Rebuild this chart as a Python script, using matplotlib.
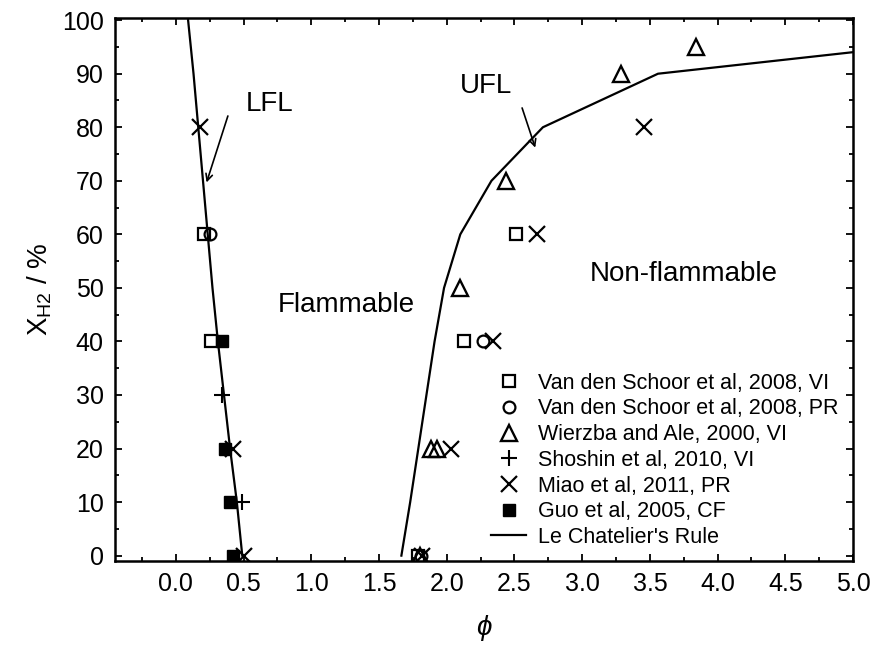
import matplotlib
matplotlib.use("Agg")
import matplotlib.pyplot as plt
from matplotlib.ticker import MultipleLocator

plt.rcParams["font.family"] = ["Liberation Sans", "DejaVu Sans"]
plt.rcParams["mathtext.fontset"] = "custom"
plt.rcParams["mathtext.rm"] = "Liberation Sans"
plt.rcParams["mathtext.it"] = "Liberation Sans:italic"

# Le Chatelier's rule, lower and upper flammability limits
lfl_x_h2 = [0, 10, 20, 30, 40, 50, 60, 70, 80, 90, 100]
lfl_phi = [0.49, 0.45, 0.40, 0.355, 0.31, 0.27, 0.235, 0.20, 0.165, 0.13, 0.09]
ufl_x_h2 = [0, 10, 20, 30, 40, 50, 60, 70, 80, 90, 100]
ufl_phi = [1.665, 1.73, 1.79, 1.85, 1.91, 1.98, 2.10, 2.33, 2.71, 3.56, 7.14]

# experimental data sets
schoor_vi_phi = [0.21, 0.26, 1.79, 2.13, 2.51]
schoor_vi_x = [60, 40, 0, 40, 60]
schoor_pr_phi = [0.25, 1.81, 2.27]
schoor_pr_x = [60, 0, 40]
wierzba_phi = [1.80, 1.88, 1.93, 2.10, 2.44, 3.29, 3.84]
wierzba_x = [0, 20, 20, 50, 70, 90, 95]
shoshin_phi = [0.34, 0.49]
shoshin_x = [30, 10]
miao_phi = [0.18, 0.42, 0.50, 1.82, 2.03, 2.34, 2.67, 3.46]
miao_x = [80, 20, 0, 0, 20, 40, 60, 80]
guo_phi = [0.34, 0.36, 0.40, 0.42]
guo_x = [40, 20, 10, 0]

fig = plt.figure(figsize=(8.73, 6.46), dpi=100)
ax = fig.add_axes([0.1317, 0.1316, 0.8454, 0.8405])

line, = ax.plot(lfl_phi, lfl_x_h2, color="black", lw=1.6, zorder=2,
                label="Le Chatelier's Rule")
ax.plot(ufl_phi, ufl_x_h2, color="black", lw=1.6, zorder=2)

mk = dict(linestyle="none", color="black", zorder=3)
h1, = ax.plot(schoor_vi_phi, schoor_vi_x, marker="s", ms=8, mfc="none", mew=1.6,
              label="Van den Schoor et al, 2008, VI", **mk)
h2, = ax.plot(schoor_pr_phi, schoor_pr_x, marker="o", ms=8.5, mfc="none", mew=1.6,
              label="Van den Schoor et al, 2008, PR", **mk)
h3, = ax.plot(wierzba_phi, wierzba_x, marker="^", ms=11, mfc="none", mew=1.7,
              label="Wierzba and Ale, 2000, VI", **mk)
h4, = ax.plot(shoshin_phi, shoshin_x, marker="+", ms=12, mew=1.5,
              label="Shoshin et al, 2010, VI", **mk)
h5, = ax.plot(miao_phi, miao_x, marker="x", ms=11.5, mew=1.6,
              label="Miao et al, 2011, PR", **mk)
h6, = ax.plot(guo_phi, guo_x, marker="s", ms=9, mew=1,
              label="Guo et al, 2005, CF", **mk)

ax.legend(handles=[h1, h2, h3, h4, h5, h6, line], loc="upper left",
          bbox_to_anchor=(0.51, 0.347), frameon=False, fontsize=15.5,
          labelspacing=0.22, handlelength=1.6, handletextpad=0.55,
          borderpad=0, borderaxespad=0)

ax.text(0.69, 84.3, "LFL", fontsize=20, ha="center", va="center")
ax.text(2.29, 87.7, "UFL", fontsize=20, ha="center", va="center")
ax.text(1.26, 46.8, "Flammable", fontsize=20, ha="center", va="center")
ax.text(3.75, 52.6, "Non-flammable", fontsize=20, ha="center", va="center")

arrow = dict(arrowstyle="->", color="black", lw=1.2, mutation_scale=12)
ax.annotate("", xy=(0.22, 69.2), xytext=(0.39, 82.6), arrowprops=arrow)
ax.annotate("", xy=(2.66, 75.7), xytext=(2.55, 84.1), arrowprops=arrow)

ax.set_xlim(-0.45, 5.0)
ax.set_ylim(-1, 100.4)
ax.xaxis.set_major_locator(MultipleLocator(0.5))
ax.xaxis.set_minor_locator(MultipleLocator(0.25))
ax.yaxis.set_major_locator(MultipleLocator(10))
ax.yaxis.set_minor_locator(MultipleLocator(5))
ax.set_xticks([0, 0.5, 1, 1.5, 2, 2.5, 3, 3.5, 4, 4.5, 5])
ax.set_xticklabels([f"{v:.1f}" for v in ax.get_xticks()])

ax.tick_params(which="both", direction="in", top=True, right=True,
               width=1.3, labelsize=18, colors="black")
ax.tick_params(which="major", length=5, pad=8)
ax.tick_params(which="minor", length=3)
for sp in ax.spines.values():
    sp.set_linewidth(1.8)

ax.set_xlabel(r"$\phi$", fontsize=20, labelpad=12)
ax.set_ylabel(r"X$_{\mathrm{H2}}$ / %", fontsize=20, labelpad=6)

fig.savefig("out.png", dpi=100)
